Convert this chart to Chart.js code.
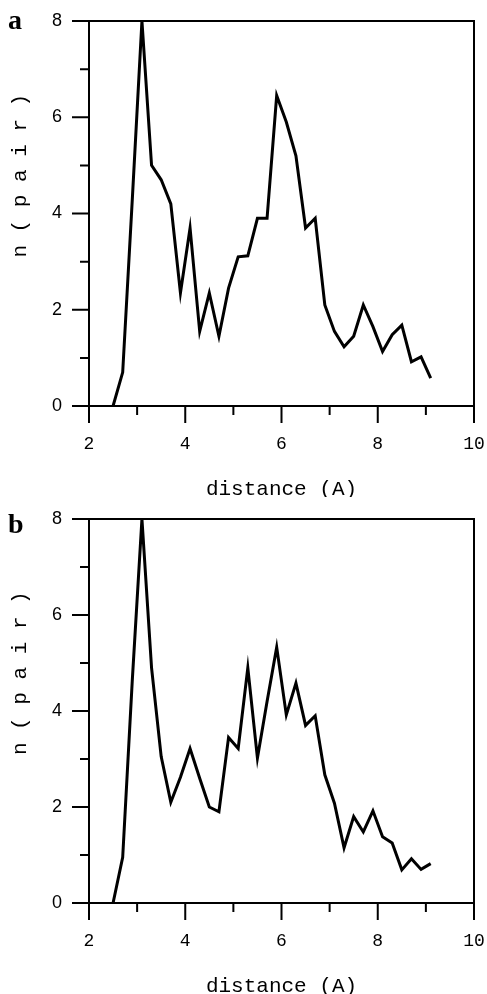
<!DOCTYPE html>
<html>
<head>
<meta charset="utf-8">
<script src="https://cdn.jsdelivr.net/npm/chart.js@4.4.0/dist/chart.umd.min.js"></script>
<style>
    body { margin: 0; background: #fff; }
    .panel { position: absolute; left: 0; width: 487px; height: 497px; }
    .panel-label { position: absolute; left: 8px; font: bold 28px "Liberation Serif", serif; color: #000; }
</style>
</head>
<body>
<div class="panel" style="top:0"><canvas id="chart-a" width="487" height="497"></canvas></div>
<div class="panel" style="top:497px"><canvas id="chart-b" width="487" height="497"></canvas></div>
<div class="panel-label" style="top:4px">a</div>
<div class="panel-label" style="top:508px">b</div>
<script>
// distance grid (A), same for both panels
const distance = [2.5, 2.7, 2.9, 3.1, 3.3, 3.5, 3.7, 3.9, 4.1, 4.3, 4.5, 4.7, 4.9, 5.1, 5.3, 5.5, 5.7,
    5.9, 6.1, 6.3, 6.5, 6.7, 6.9, 7.1, 7.3, 7.5, 7.7, 7.9, 8.1, 8.3, 8.5, 8.7, 8.9, 9.1];

// n(pair) for panel a
const pairsA = [0, 0.7, 4.3, 8.0, 5.0, 4.7, 4.2, 2.35, 3.7, 1.55, 2.35, 1.45, 2.45, 3.1, 3.12, 3.9, 3.9,
    6.45, 5.9, 5.2, 3.7, 3.9, 2.1, 1.55, 1.23, 1.45, 2.1, 1.65, 1.13, 1.48, 1.68, 0.92, 1.02, 0.58];

// n(pair) for panel b
const pairsB = [0, 0.95, 4.65, 8.0, 4.9, 3.05, 2.1, 2.62, 3.22, 2.6, 2.0, 1.9, 3.45, 3.22, 4.9, 3.02, 4.2,
    5.33, 3.92, 4.58, 3.7, 3.9, 2.67, 2.08, 1.15, 1.8, 1.48, 1.92, 1.38, 1.25, 0.69, 0.92, 0.7, 0.82];

const xMin = 2, xMax = 10, yMin = 0, yMax = 8;

// frame plus long/short ticks like the original plot
const framePlugin = {
    id: 'frame',
    afterDraw(chart) {
        const ctx = chart.ctx;
        const area = chart.chartArea;
        const xs = chart.scales.x;
        const ys = chart.scales.y;
        ctx.save();
        ctx.strokeStyle = '#000';
        ctx.lineWidth = 2;
        ctx.strokeRect(area.left, area.top, area.right - area.left, area.bottom - area.top);
        ctx.beginPath();
        for (let v = xMin; v <= xMax; v++) {
            const px = xs.getPixelForValue(v);
            ctx.moveTo(px, area.bottom);
            ctx.lineTo(px, area.bottom + (v % 2 === 0 ? 17 : 9));
        }
        for (let v = yMin; v <= yMax; v++) {
            const py = ys.getPixelForValue(v);
            ctx.moveTo(area.left, py);
            ctx.lineTo(area.left - (v % 2 === 0 ? 17 : 9), py);
        }
        ctx.stroke();
        ctx.restore();
    }
};

// no extra room for overflowing tick labels, layout padding does it
function noOverflow(scale) {
    scale.paddingTop = 0;
    scale.paddingBottom = 0;
    scale.paddingLeft = 0;
    scale.paddingRight = 0;
}

function makeChart(id, values, topPad) {
    const ctx = document.getElementById(id).getContext('2d');
    return new Chart(ctx, {
        type: 'line',
        data: {
            datasets: [{
                data: distance.map((d, i) => ({ x: d, y: values[i] })),
                borderColor: '#000',
                borderWidth: 3,
                pointRadius: 0,
                tension: 0,
                fill: false
            }]
        },
        options: {
            responsive: false,
            animation: false,
            layout: { padding: { top: topPad, right: 13, left: 0, bottom: 0 } },
            plugins: { legend: { display: false }, tooltip: { enabled: false } },
            scales: {
                x: {
                    type: 'linear',
                    min: xMin,
                    max: xMax,
                    grid: { display: false, drawTicks: false },
                    border: { display: false },
                    ticks: {
                        stepSize: 2,
                        padding: 27,
                        color: '#000',
                        font: { family: '"Liberation Mono", monospace', size: 18 }
                    },
                    title: {
                        display: true,
                        text: 'distance (A)',
                        color: '#000',
                        font: { family: '"Liberation Mono", monospace', size: 21, lineHeight: 1 },
                        padding: { top: -3, bottom: -3 }
                    },
                    afterFit(scale) { scale.height = 91; noOverflow(scale); }
                },
                y: {
                    min: yMin,
                    max: yMax,
                    grid: { display: false, drawTicks: false },
                    border: { display: false },
                    ticks: {
                        stepSize: 2,
                        padding: 27,
                        color: '#000',
                        font: { family: '"Liberation Sans", sans-serif', size: 18 }
                    },
                    title: {
                        display: true,
                        text: '      n ( p a i r )',
                        color: '#000',
                        font: { family: '"Liberation Mono", monospace', size: 21, lineHeight: 1 },
                        padding: { top: 10, bottom: 0 }
                    },
                    afterFit(scale) { scale.width = 89; noOverflow(scale); }
                }
            }
        },
        plugins: [framePlugin]
    });
}

makeChart('chart-a', pairsA, 21);
makeChart('chart-b', pairsB, 22);
</script>
</body>
</html>
